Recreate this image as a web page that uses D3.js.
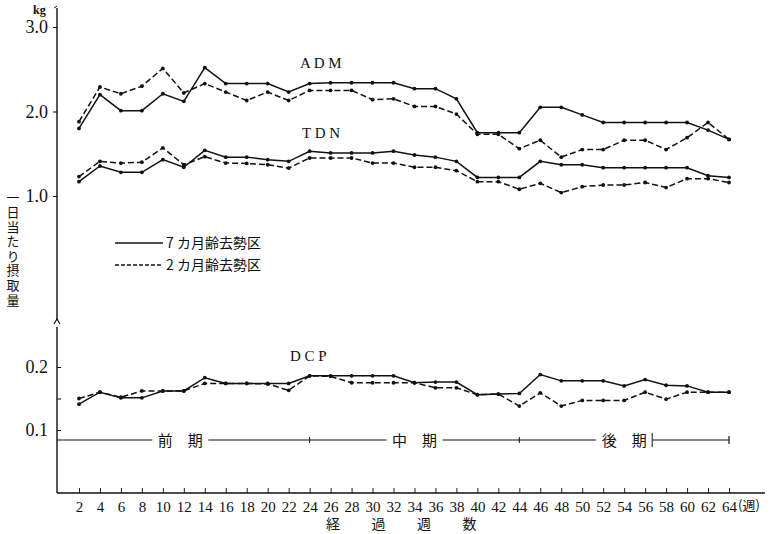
<!DOCTYPE html>
<html>
<head>
<meta charset="utf-8">
<script src="https://cdn.jsdelivr.net/npm/d3@7"></script>
<style>
  body { margin: 0; background: #fff; }
  svg { display: block; }
  .jp { font-family: "Noto Sans CJK JP", sans-serif; }
  .num { font-family: "Liberation Serif", serif; }
</style>
</head>
<body>
<div id="chart"></div>
<script>
var width = 778;
var height = 534;

// weeks on the x axis
var weeks = [2,4,6,8,10,12,14,16,18,20,22,24,26,28,30,32,34,36,38,40,42,44,46,48,50,52,54,56,58,60,62,64];

// 7カ月齢去勢区 (solid) / 2カ月齢去勢区 (dashed), kg per day
var admSolid  = [1.80,2.20,2.01,2.01,2.21,2.12,2.52,2.33,2.33,2.33,2.23,2.33,2.34,2.34,2.34,2.34,2.27,2.27,2.15,1.75,1.75,1.75,2.05,2.05,1.96,1.87,1.87,1.87,1.87,1.87,1.78,1.67];
var admDashed = [1.88,2.29,2.21,2.30,2.51,2.22,2.33,2.23,2.13,2.23,2.13,2.25,2.25,2.25,2.14,2.15,2.06,2.06,1.97,1.73,1.73,1.56,1.66,1.46,1.55,1.55,1.66,1.66,1.55,1.69,1.87,1.67];
var tdnSolid  = [1.17,1.355,1.28,1.28,1.43,1.34,1.54,1.46,1.46,1.43,1.41,1.53,1.51,1.51,1.51,1.53,1.485,1.46,1.41,1.22,1.22,1.22,1.41,1.37,1.37,1.335,1.335,1.335,1.335,1.335,1.24,1.22];
var tdnDashed = [1.23,1.41,1.39,1.40,1.57,1.37,1.465,1.39,1.385,1.37,1.33,1.45,1.45,1.45,1.39,1.39,1.34,1.34,1.30,1.17,1.17,1.08,1.15,1.04,1.11,1.13,1.13,1.16,1.10,1.205,1.205,1.16];
var dcpSolid  = [0.141,0.160,0.151,0.151,0.162,0.162,0.183,0.174,0.174,0.174,0.174,0.186,0.186,0.186,0.186,0.186,0.175,0.176,0.176,0.156,0.157,0.158,0.188,0.178,0.178,0.178,0.170,0.180,0.171,0.170,0.160,0.160];
var dcpDashed = [0.150,0.160,0.152,0.162,0.162,0.162,0.174,0.174,0.174,0.173,0.163,0.186,0.185,0.175,0.175,0.175,0.175,0.167,0.167,0.156,0.157,0.138,0.159,0.138,0.147,0.147,0.147,0.160,0.149,0.160,0.160,0.160];

var topTicks = [1.0, 2.0, 3.0];
var bottomTicks = [0.1, 0.15, 0.2];
var legendLabels = ["7 カ月齢去勢区", "2 カ月齢去勢区"];
var periods = [
  {label: "前　期", from: 0, to: 24},
  {label: "中　期", from: 24, to: 44},
  {label: "後　期", from: 44, to: 64}
];

var svg = d3.select("#chart").append("svg")
  .attr("width", width)
  .attr("height", height);

// scales
var xScale = d3.scaleLinear().domain([0, 64]).range([58, 729]);
var yTop = d3.scaleLinear().domain([1, 3]).range([196, 27]);
var yBottom = d3.scaleLinear().domain([0.1, 0.2]).range([430, 367]);

var axisX = 57, baseY = 493;

// x axis
var xAxis = d3.axisBottom(xScale)
  .tickValues(weeks)
  .tickSizeInner(-5)
  .tickSizeOuter(0)
  .tickPadding(8);
var gx = svg.append("g")
  .attr("transform", "translate(0," + baseY + ")")
  .call(xAxis);
gx.select(".domain").remove();
gx.selectAll("text").attr("class", "num").style("font-size", "15px").attr("fill", "#111");
gx.selectAll("line").attr("stroke", "#222");
svg.append("line")
  .attr("x1", axisX).attr("x2", 765)
  .attr("y1", baseY).attr("y2", baseY)
  .attr("stroke", "#111").attr("stroke-width", 1.6);
svg.append("text").attr("class", "jp")
  .attr("x", 738).attr("y", 510)
  .style("font-size", "13px").attr("fill", "#111")
  .text("(週)");

// upper y axis
var yAxisTop = d3.axisLeft(yTop)
  .tickValues(topTicks)
  .tickSize(4)
  .tickPadding(5)
  .tickFormat(d3.format(".1f"));
var gyt = svg.append("g").attr("transform", "translate(" + axisX + ",0)").call(yAxisTop);
gyt.select(".domain").remove();
gyt.selectAll("text").attr("class", "num").style("font-size", "18px").attr("fill", "#111");

// lower y axis
var yAxisBottom = d3.axisLeft(yBottom)
  .tickValues(bottomTicks)
  .tickSize(-4)
  .tickPadding(9)
  .tickFormat(function(d) { return d === 0.15 ? "" : d3.format(".1f")(d); });
var gyb = svg.append("g").attr("transform", "translate(" + axisX + ",0)").call(yAxisBottom);
gyb.select(".domain").remove();
gyb.selectAll("text").attr("class", "num").style("font-size", "18px").attr("fill", "#111");

// y axis line with break
svg.append("line")
  .attr("x1", axisX).attr("x2", axisX).attr("y1", 8).attr("y2", 320)
  .attr("stroke", "#111").attr("stroke-width", 1.4);
svg.append("line")
  .attr("x1", axisX).attr("x2", axisX).attr("y1", 327).attr("y2", baseY)
  .attr("stroke", "#111").attr("stroke-width", 1.4);
svg.append("path")
  .attr("d", "M" + (axisX - 3) + ",324 L" + axisX + ",319 L" + (axisX + 3) + ",324")
  .attr("fill", "none").attr("stroke", "#111").attr("stroke-width", 1.2);
svg.append("path")
  .attr("d", "M" + (axisX - 3) + ",8 L" + axisX + ",6")
  .attr("fill", "none").attr("stroke", "#111").attr("stroke-width", 1);

svg.append("text").attr("class", "num")
  .attr("x", 33).attr("y", 14)
  .style("font-size", "12px").style("font-weight", "bold").attr("fill", "#111")
  .text("kg");

// vertical y label
svg.append("text")
  .attr("class", "jp")
  .attr("x", 13)
  .attr("y", 191)
  .style("writing-mode", "vertical-rl")
  .style("font-size", "13px")
  .style("letter-spacing", "1.6px")
  .attr("fill", "#111")
  .text("一日当たり摂取量");

// x axis title
var xLabel = ["経", "過", "週", "数"];
svg.selectAll(".xlab")
  .data(xLabel)
  .enter()
  .append("text")
  .attr("class", "jp xlab")
  .attr("x", function(d, i) { return 333 + i * 45.5; })
  .attr("y", 529)
  .attr("text-anchor", "middle")
  .style("font-size", "14px")
  .attr("fill", "#111")
  .text(function(d) { return d; });

// series
var series = [
  {values: admSolid, y: yTop, dash: null},
  {values: admDashed, y: yTop, dash: "6,3"},
  {values: tdnSolid, y: yTop, dash: null},
  {values: tdnDashed, y: yTop, dash: "6,3"},
  {values: dcpSolid, y: yBottom, dash: null},
  {values: dcpDashed, y: yBottom, dash: "6,3"}
];

series.forEach(function(s) {
  var line = d3.line()
    .x(function(d, i) { return xScale(weeks[i]); })
    .y(function(d) { return s.y(d); });
  svg.append("path")
    .datum(s.values)
    .attr("d", line)
    .attr("fill", "none")
    .attr("stroke", "#111")
    .attr("stroke-width", 1.5)
    .attr("stroke-dasharray", s.dash);
  svg.append("g").selectAll("circle")
    .data(s.values)
    .enter()
    .append("circle")
    .attr("cx", function(d, i) { return xScale(weeks[i]); })
    .attr("cy", function(d) { return s.y(d); })
    .attr("r", 1.9)
    .attr("fill", "#111");
});

// series names
var names = [
  {text: "A D M", x: 300, y: 68},
  {text: "T D N", x: 302, y: 138},
  {text: "D C P", x: 290, y: 361}
];
svg.selectAll(".sname")
  .data(names)
  .enter()
  .append("text")
  .attr("class", "num sname")
  .attr("x", function(d) { return d.x; })
  .attr("y", function(d) { return d.y; })
  .style("font-size", "15px")
  .attr("fill", "#111")
  .text(function(d) { return d.text; });

// legend
var legend = svg.append("g");
legendLabels.forEach(function(lab, i) {
  var ly = 243 + i * 22;
  legend.append("line")
    .attr("x1", 115).attr("x2", 163)
    .attr("y1", ly).attr("y2", ly)
    .attr("stroke", "#111").attr("stroke-width", 1.3)
    .attr("stroke-dasharray", i === 1 ? "4,2" : null);
  legend.append("text")
    .attr("class", "jp")
    .attr("x", 166).attr("y", ly + 5)
    .style("font-size", "14px")
    .attr("fill", "#111")
    .text(lab);
});

// period bar
var barY = 440;
var bar = svg.append("g");
periods.forEach(function(p, i) {
  var x0 = i === 0 ? axisX : xScale(p.from);
  var x1 = xScale(p.to);
  var cx = (x0 + x1) / 2 + (i === 0 ? -3 : 0);
  var half = 24;
  bar.append("line")
    .attr("x1", x0).attr("x2", cx - half - 4)
    .attr("y1", barY).attr("y2", barY)
    .attr("stroke", "#111").attr("stroke-width", 1.2);
  bar.append("line")
    .attr("x1", cx + half + 4).attr("x2", x1)
    .attr("y1", barY).attr("y2", barY)
    .attr("stroke", "#111").attr("stroke-width", 1.2);
  bar.append("text")
    .attr("class", "jp")
    .attr("x", cx).attr("y", barY + 6)
    .attr("text-anchor", "middle")
    .style("font-size", "15px")
    .attr("fill", "#111")
    .text(p.label);
  if (i > 0) {
    bar.append("line")
      .attr("x1", x0).attr("x2", x0)
      .attr("y1", barY - 3).attr("y2", barY + 3)
      .attr("stroke", "#111").attr("stroke-width", 1);
  }
  if (i === periods.length - 1) {
    bar.append("line")
      .attr("x1", x1).attr("x2", x1)
      .attr("y1", barY - 4).attr("y2", barY + 4)
      .attr("stroke", "#111").attr("stroke-width", 1.2);
    bar.append("line")
      .attr("x1", cx + half + 4).attr("x2", cx + half + 4)
      .attr("y1", barY - 7).attr("y2", barY + 7)
      .attr("stroke", "#111").attr("stroke-width", 1);
  }
});
</script>
</body>
</html>
